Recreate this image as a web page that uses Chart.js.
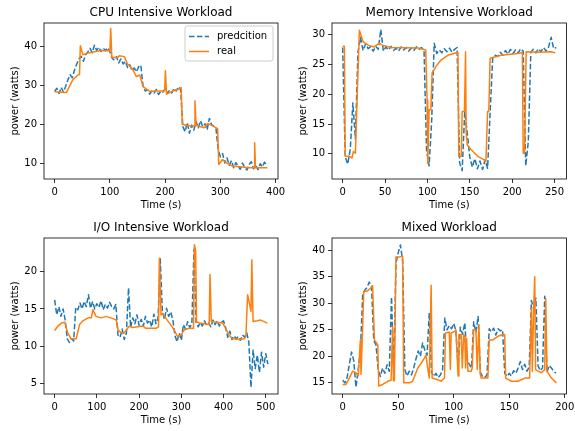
<!DOCTYPE html>
<html>
<head>
<meta charset="utf-8">
<script src="https://cdn.jsdelivr.net/npm/chart.js@4.4.0/dist/chart.umd.min.js"></script>
<style>
html, body { margin: 0; padding: 0; background: #fff; }
#wrap { position: relative; width: 575px; height: 431px; }
#wrap canvas { position: absolute; }
</style>
</head>
<body>
<div id="wrap">
  <canvas id="cpuChart" width="288" height="215" style="left:0;top:0"></canvas>
  <canvas id="memChart" width="287" height="215" style="left:288px;top:0"></canvas>
  <canvas id="ioChart" width="288" height="216" style="left:0;top:215px"></canvas>
  <canvas id="mixChart" width="287" height="216" style="left:288px;top:215px"></canvas>
</div>
<script>
// ---- CPU intensive workload ----
var cpuPredStep = 4;
var cpuPred = [
    28.5, 29.3, 28.0, 29.5, 28.3, 29.8, 31.5, 32.8, 32.0, 34.0,
    35.5, 36.8, 37.5, 36.2, 37.8, 38.6, 39.5, 38.4, 40.3, 39.0,
    39.8, 38.7, 39.6, 38.9, 39.7, 38.6, 37.0, 36.5, 37.4, 35.8,
    36.8, 35.5, 36.2, 34.6, 35.3, 33.8, 34.5, 33.5, 34.8, 35.2,
    29.8, 28.6, 28.9, 27.8, 28.6, 28.1, 29.0, 27.7, 28.5, 28.3,
    29.2, 28.0, 28.8, 28.1, 29.3, 28.6, 29.7, 29.0, 19.5, 18.2,
    20.5, 17.8, 19.9, 18.6, 20.8, 19.2, 21.0, 19.5, 20.2, 18.7,
    21.6, 20.0, 19.6, 19.0, 13.5, 11.8, 12.6, 10.2, 11.5, 9.6,
    10.8, 9.0, 10.3, 9.4, 8.6, 10.2, 9.1, 8.4, 9.8, 10.5,
    8.7, 9.6, 8.5, 10.0, 9.2, 10.4, 9.6
];
var cpuRealT = [0, 21, 33, 42, 45, 46.5, 51, 60, 70, 81, 100, 101.5, 103.5, 114, 117, 126, 132, 141, 148, 154, 160, 172, 185,
    199, 200.5, 202.5, 214, 226, 229, 231, 241, 253, 254, 256, 271, 277, 286, 295, 297, 304, 310, 322, 352, 361, 362, 363.5, 385];
var cpuRealV = [28.4, 28.2, 31.5, 32.7, 32.8, 40.2, 37.9, 38.3, 38.6, 38.9, 38.9, 44.6, 37.2, 37.2, 37.6, 37.4, 35.5, 34.2, 32.3, 32.7, 29.7, 28.5, 28.6,
    28.6, 33.8, 27.8, 28.6, 29.2, 29.5, 20.1, 19.7, 19.7, 26.1, 19.8, 19.2, 20.3, 19.7, 19.0, 9.8, 11.1, 10.3, 9.4, 9.0, 9.0, 15.4, 9.0, 9.0];
var cpuXTicks = [0, 100, 200, 300, 400];
var cpuYTicks = [10, 20, 30, 40];

// ---- Memory intensive workload ----
var memPredStep = 3;
var memPred = [
    27.8, 9.5, 8.3, 10.8, 18.5, 12.5, 27.0, 29.5, 27.3, 28.4,
    27.6, 27.9, 27.2, 28.0, 27.5, 30.8, 27.2, 27.9, 27.4, 28.0,
    27.3, 27.7, 27.2, 27.9, 27.4, 27.8, 27.2, 27.7, 27.3, 27.9,
    27.5, 27.8, 27.3, 10.5, 8.0, 15.5, 28.5, 26.8, 27.4, 26.9,
    27.6, 27.1, 27.7, 27.0, 27.5, 27.8, 8.5, 7.2, 17.0, 13.5,
    9.5, 7.8, 9.2, 7.5, 8.8, 7.4, 9.0, 7.6, 17.0, 26.0,
    26.5, 26.3, 27.0, 26.5, 27.3, 26.7, 27.5, 26.8, 27.4, 26.9,
    27.6, 27.2, 8.0, 12.0, 27.0, 27.5, 26.9, 27.6, 27.1, 27.8,
    27.2, 27.9, 29.5, 27.6, 27.8
];
var memRealT = [0, 2, 3, 8, 11, 12.6, 15, 17, 19.7, 24, 30, 37, 43, 47, 57, 89, 98, 99.6, 100.4, 102, 104, 105.5, 110, 116, 124,
    136, 137, 140, 141, 143.7, 145, 145.7, 147, 151.6, 159.4, 167, 169, 171, 172.4, 174, 187, 206.7, 212, 213, 214.6, 216.5, 230, 246, 251];
var memRealV = [28.0, 28.0, 9.6, 9.6, 9.3, 10.4, 10.1, 19.0, 30.7, 28.8, 28.2, 27.9, 28.5, 28.2, 27.8, 27.7, 27.4, 19.0, 8.4, 17.4, 17.4, 23.5, 24.6, 25.7, 26.5,
    27.0, 9.6, 9.6, 17.1, 17.1, 27.1, 13.5, 11.5, 10.7, 9.6, 9.0, 8.7, 17.1, 17.1, 26.0, 26.5, 26.8, 27.0, 10.1, 10.1, 27.1, 27.0, 27.1, 26.9];
var memXTicks = [0, 50, 100, 150, 200, 250];
var memYTicks = [10, 15, 20, 25, 30];

// ---- I/O intensive workload ----
var ioPredStep = 5;
var ioPred = [
    16.2, 14.2, 15.3, 14.0, 15.0, 13.5, 11.0, 10.5, 11.0, 10.7,
    15.2, 14.9, 15.8, 15.0, 16.0, 15.3, 16.9, 15.1, 16.0, 15.0,
    15.7, 15.2, 16.1, 14.9, 15.6, 15.1, 15.9, 15.3, 15.0, 15.6,
    11.5, 11.2, 12.3, 10.9, 11.8, 17.8, 12.5, 13.8, 13.0, 14.2,
    12.8, 13.6, 12.7, 14.0, 13.1, 13.5, 12.6, 14.3, 13.0, 13.8,
    21.8, 14.8, 13.6, 15.1, 14.0, 14.6, 13.5, 11.4, 10.6, 11.8,
    10.8, 12.9, 12.3, 13.3, 12.5, 13.0, 23.0, 13.2, 12.6, 13.2,
    12.7, 13.4, 12.8, 13.1, 12.6, 13.5, 12.9, 13.4, 12.7, 13.2,
    13.4, 12.5, 11.2, 12.0, 10.9, 11.4, 11.0, 11.3, 10.8, 11.5,
    11.2, 11.8, 10.5, 4.5, 9.5, 7.0, 8.8, 6.5, 9.2, 7.2,
    9.0, 7.6
];
var ioRealT = [0, 8, 16, 24, 31, 39, 51, 59, 67, 79, 87, 90.5, 98, 110, 122, 138, 146, 150, 157, 165, 173, 177, 185, 209, 216, 240, 246,
    248, 252, 256, 260, 272, 283, 291, 299, 307, 319, 329, 331, 334, 336, 343, 366, 368, 371, 382, 398, 405, 413, 421, 437, 449, 453,
    457, 461, 465, 467, 470, 480, 488, 500, 504];
var ioRealV = [12.1, 12.7, 13.1, 13.2, 11.8, 11.0, 11.0, 12.9, 13.4, 13.8, 13.8, 14.9, 14.0, 13.8, 14.0, 13.7, 13.5, 12.2, 11.8, 11.8, 12.4, 12.7, 12.5, 12.7, 12.4, 12.4, 12.6,
    21.8, 14.2, 14.4, 14.0, 13.1, 12.2, 11.3, 11.5, 12.2, 12.4, 12.4, 23.6, 22.8, 13.3, 13.1, 12.9, 19.6, 13.3, 13.2, 13.1, 12.4, 11.5, 11.0, 10.9, 11.0, 11.3,
    16.9, 15.8, 14.7, 21.6, 13.3, 13.4, 13.5, 13.2, 13.1];
var ioXTicks = [0, 100, 200, 300, 400, 500];
var ioYTicks = [5, 10, 15, 20];

// ---- Mixed workload ----
var mixPredStep = 2;
var mixPred = [
    15.5, 15.0, 16.0, 18.5, 20.8, 19.2, 14.2, 17.5, 21.0, 31.5,
    32.5, 33.0, 34.0, 33.2, 23.0, 22.2, 17.5, 16.2, 17.8, 16.8,
    18.4, 17.2, 31.2, 16.5, 37.5, 39.5, 41.0, 38.0, 17.5, 16.3,
    17.2, 16.5, 17.8, 19.5, 21.0, 20.0, 22.5, 21.2, 20.2, 28.2,
    17.0, 16.2, 16.8, 16.0, 16.5, 17.5, 27.2, 25.0, 25.8, 25.2,
    26.2, 24.8, 18.0, 25.5, 24.2, 26.3, 19.5, 18.5, 17.8, 26.5,
    24.5, 27.5, 17.0, 16.2, 16.0, 16.5, 25.2, 24.6, 25.3, 24.0,
    25.2, 24.8, 25.0, 16.8, 16.2, 16.8, 16.3, 17.3, 16.8, 17.8,
    19.0, 17.5, 18.5, 17.2, 18.0, 30.5, 29.0, 31.0, 18.2, 17.3,
    17.8, 31.3, 17.0, 18.3, 17.8, 17.2, 16.8
];
var mixRealT = [0, 3, 6, 9, 12, 14, 16, 16.5, 17.4, 19, 22, 25, 27, 28.6, 31.6, 32.5, 36, 40.6, 43.6, 45, 45.7, 46.6, 48, 51, 54, 55,
    60, 63, 67.7, 72, 75, 77, 78, 79.7, 80.6, 85.7, 88.7, 91.7, 92.6, 96, 97, 97.7, 100.8, 102, 104, 104.7, 106.8, 107.7, 109, 110,
    110.7, 111.6, 112.8, 115.8, 116.7, 118, 120, 121.2, 122.7, 123.9, 124.8, 130.8, 132, 135.3, 140, 144.4, 145.9, 146.8, 152, 158,
    164, 168.4, 170, 170.8, 172, 173, 173.8, 176, 179, 182, 182.9, 184, 188, 192.5];
var mixRealV = [14.7, 14.7, 15.9, 17.2, 16.9, 16.3, 23.1, 16.6, 21.6, 32.2, 32.3, 32.8, 33.3, 23.1, 22.2, 14.4, 14.7, 15.3, 15.5, 25.6, 15.4, 15.4, 38.7, 38.7, 38.9, 15.0,
    15.0, 15.3, 17.8, 19.1, 20.2, 17.2, 15.9, 33.4, 15.9, 15.6, 15.3, 15.9, 24.4, 24.6, 17.5, 24.4, 24.7, 25.0, 16.3, 24.1, 24.1, 17.8, 24.1, 23.8,
    17.8, 23.4, 17.2, 17.2, 17.8, 25.0, 25.0, 17.5, 25.9, 16.6, 15.9, 15.9, 23.1, 23.1, 23.8, 24.1, 24.1, 15.9, 15.3, 15.3,
    15.9, 15.9, 29.0, 17.2, 29.0, 35.0, 17.5, 17.2, 16.9, 17.5, 30.9, 17.2, 15.9, 15.0];
var mixXTicks = [0, 50, 100, 150, 200];
var mixYTicks = [15, 20, 25, 30, 35, 40];

var BLUE = '#1f77b4';
var ORANGE = '#ff7f0e';
var FONT = 'DejaVu Sans';

function stepTimes(values, step) {
    return values.map(function (v, i) { return i * step; });
}

function toPoints(times, values) {
    return times.map(function (t, i) { return { x: t, y: values[i] }; });
}

// Draws the axes box, the subplot title and (optionally) the legend
var panelDeco = {
    id: 'panelDeco',
    afterDatasetsDraw: function (chart, args, opts) {
        var ctx = chart.ctx;
        var a = chart.chartArea;
        ctx.save();
        ctx.strokeStyle = '#000';
        ctx.lineWidth = 0.8;
        ctx.strokeRect(a.left, a.top, a.right - a.left, a.bottom - a.top);

        ctx.fillStyle = '#000';
        ctx.font = '12px "' + FONT + '"';
        ctx.textAlign = 'center';
        ctx.textBaseline = 'middle';
        ctx.fillText(opts.title, (a.left + a.right) / 2, 12.5);

        if (opts.legend) {
            var bx = 185, by = 26, bw = 88, bh = 35, r = 2.5;
            ctx.beginPath();
            ctx.moveTo(bx + r, by);
            ctx.arcTo(bx + bw, by, bx + bw, by + bh, r);
            ctx.arcTo(bx + bw, by + bh, bx, by + bh, r);
            ctx.arcTo(bx, by + bh, bx, by, r);
            ctx.arcTo(bx, by, bx + bw, by, r);
            ctx.closePath();
            ctx.fillStyle = 'rgba(255,255,255,0.8)';
            ctx.fill();
            ctx.strokeStyle = '#cccccc';
            ctx.lineWidth = 1;
            ctx.stroke();

            var rows = [
                { label: 'predcition', color: BLUE, dash: [5.5, 2.4], y: 36.5 },
                { label: 'real', color: ORANGE, dash: [], y: 51.5 }
            ];
            rows.forEach(function (row) {
                ctx.beginPath();
                ctx.setLineDash(row.dash);
                ctx.strokeStyle = row.color;
                ctx.lineWidth = 1.5;
                ctx.moveTo(189, row.y);
                ctx.lineTo(209, row.y);
                ctx.stroke();
                ctx.setLineDash([]);
                ctx.fillStyle = '#000';
                ctx.font = '10px "' + FONT + '"';
                ctx.textAlign = 'left';
                ctx.fillText(row.label, 217, row.y);
            });
        }
        ctx.restore();
    }
};

function makePanel(id, title, predV, predStep, realT, realV, xRange, yRange, xTicks, yTicks, padRight, xHeight, showLegend) {
    var ctx = document.getElementById(id).getContext('2d');
    var axisFont = { family: FONT, size: 10 };
    return new Chart(ctx, {
        type: 'line',
        data: {
            datasets: [{
                label: 'predcition',
                data: toPoints(stepTimes(predV, predStep), predV),
                borderColor: BLUE,
                borderWidth: 1.5,
                borderDash: [5.5, 2.4],
                borderCapStyle: 'butt',
                borderJoinStyle: 'round',
                pointRadius: 0,
                tension: 0,
                order: 2
            }, {
                label: 'real',
                data: toPoints(realT, realV),
                borderColor: ORANGE,
                borderWidth: 1.5,
                borderJoinStyle: 'round',
                pointRadius: 0,
                tension: 0,
                order: 1
            }]
        },
        options: {
            responsive: false,
            animation: false,
            devicePixelRatio: 1,
            layout: { padding: { top: 23, right: padRight, left: 0, bottom: 0 } },
            plugins: {
                legend: { display: false },
                tooltip: { enabled: false },
                title: { display: false },
                panelDeco: { title: title, legend: showLegend }
            },
            scales: {
                x: {
                    type: 'linear',
                    min: xRange[0],
                    max: xRange[1],
                    afterBuildTicks: function (s) { s.ticks = xTicks.map(function (v) { return { value: v }; }); },
                    afterFit: function (s) { s.height = xHeight; s.paddingLeft = 0; s.paddingRight = 0; },
                    grid: { display: true, drawOnChartArea: false, drawTicks: true, tickLength: 4, color: '#000', lineWidth: 0.8 },
                    border: { display: false },
                    ticks: { color: '#000', font: axisFont, padding: 3, maxRotation: 0, autoSkip: false },
                    title: { display: true, text: 'Time (s)', color: '#000', font: axisFont, padding: { top: 0, bottom: xHeight - 32.5 } }
                },
                y: {
                    type: 'linear',
                    min: yRange[0],
                    max: yRange[1],
                    afterBuildTicks: function (s) { s.ticks = yTicks.map(function (v) { return { value: v }; }); },
                    afterFit: function (s) { s.width = 44; s.paddingTop = 0; s.paddingBottom = 0; },
                    grid: { display: true, drawOnChartArea: false, drawTicks: true, tickLength: 4, color: '#000', lineWidth: 0.8 },
                    border: { display: false },
                    ticks: { color: '#000', font: axisFont, padding: 3, autoSkip: false },
                    title: { display: true, text: 'power (watts)', color: '#000', font: axisFont, padding: { top: 9, bottom: 0 } }
                }
            }
        },
        plugins: [panelDeco]
    });
}

makePanel('cpuChart', 'CPU Intensive Workload', cpuPred, cpuPredStep, cpuRealT, cpuRealV,
    [-19.25, 404.25], [6.1, 46.0], cpuXTicks, cpuYTicks, 10, 36, true);
makePanel('memChart', 'Memory Intensive Workload', memPred, memPredStep, memRealT, memRealV,
    [-12.6, 264.1], [5.8, 31.9], memXTicks, memYTicks, 8.5, 36, false);
makePanel('ioChart', 'I/O Intensive Workload', ioPred, ioPredStep, ioRealT, ioRealV,
    [-25.2, 529], [3.6, 24.5], ioXTicks, ioYTicks, 10, 37, false);
makePanel('mixChart', 'Mixed Workload', mixPred, mixPredStep, mixRealT, mixRealV,
    [-9.6, 201.6], [12.9, 42.3], mixXTicks, mixYTicks, 8.5, 37, false);
</script>
</body>
</html>
